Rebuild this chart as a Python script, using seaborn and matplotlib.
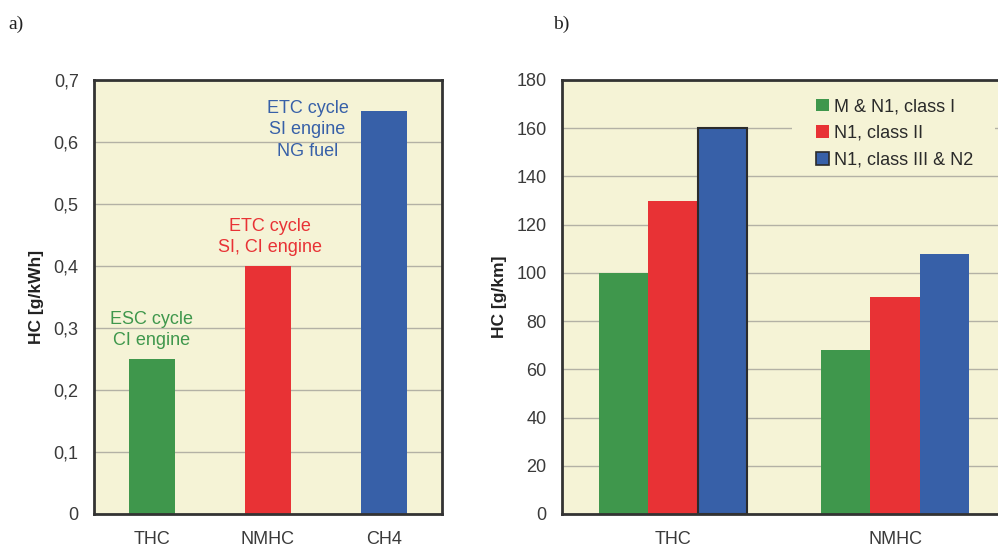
import numpy as np
import pandas as pd
import matplotlib
matplotlib.use("Agg")
import matplotlib.pyplot as plt
from matplotlib.patches import Rectangle
import seaborn as sns

# panel a) emission limits per cycle
a_cats = ['THC', 'NMHC', 'CH4']
a_vals = [0.25, 0.40, 0.65]
a_notes = ['ESC cycle\nCI engine', 'ETC cycle\nSI, CI engine', 'ETC cycle\nSI engine\nNG fuel']
a_yticks = [0, 0.1, 0.2, 0.3, 0.4, 0.5, 0.6, 0.7]

# panel b) limits per vehicle class
b_groups = ['THC', 'NMHC']
b_classes = ['M & N1, class I', 'N1, class II', 'N1, class III & N2']
b_class1 = [100, 68]
b_class2 = [130, 90]
b_class3 = [160, 108]
b_yticks = [0, 20, 40, 60, 80, 100, 120, 140, 160, 180]

GREEN = '#3f974c'
RED = '#e83235'
BLUE = '#3760a8'
BG = '#f5f3d6'
GRID = '#b3b1a5'
SPINE = '#333333'
TXT = '#3a3a3a'
FS = 13

sns.set_style("white")
plt.rcParams['font.family'] = ['Liberation Sans', 'DejaVu Sans']

fig = plt.figure(figsize=(9.98, 5.47), dpi=100)
W, H = 998, 547
ax1 = fig.add_axes([94 / W, 1 - 514 / H, (442 - 94) / W, (514 - 80) / H])
ax2 = fig.add_axes([562 / W, 1 - 514 / H, (1006 - 562) / W, (514 - 80) / H])


def style_axes(ax, yticks, ylabel, labels):
    ax.set_facecolor(BG)
    ax.set_axisbelow(True)
    ax.yaxis.grid(True, color=GRID, lw=1.0)
    ax.xaxis.grid(False)
    for s in ax.spines.values():
        s.set_color(SPINE)
        s.set_linewidth(2.0)
    ax.set_yticks(yticks)
    ax.set_yticklabels(labels)
    ax.set_ylim(yticks[0], yticks[-1])
    ax.tick_params(axis='y', length=0, pad=11, labelsize=FS, labelcolor=TXT)
    ax.tick_params(axis='x', length=0, pad=12, labelsize=FS, labelcolor=TXT)
    ax.set_xlabel('')
    ax.set_ylabel(ylabel, fontsize=12.5, fontweight='bold', color='#222222', labelpad=7)


# a)
df_a = pd.DataFrame({'cat': a_cats, 'val': a_vals})
sns.barplot(data=df_a, x='cat', y='val', hue='cat', palette=[GREEN, RED, BLUE],
            legend=False, width=0.4, saturation=1, linewidth=0, ax=ax1)
ax1.set_xlim(-0.5, 2.5)
style_axes(ax1, a_yticks, 'HC [g/kWh]', [('%g' % t).replace('.', ',') for t in a_yticks])
note_pos = [(0.0, 0.297), (1.02, 0.447), (1.34, 0.62)]
for (x, y), note, c in zip(note_pos, a_notes, [GREEN, RED, BLUE]):
    ax1.text(x, y, note, color=c, fontsize=FS, ha='center', va='center', linespacing=1.35)

# b)
df_b = pd.DataFrame({
    'group': b_groups * 3,
    'cls': [b_classes[0]] * 2 + [b_classes[1]] * 2 + [b_classes[2]] * 2,
    'val': b_class1 + b_class2 + b_class3,
})
sns.barplot(data=df_b, x='group', y='val', hue='cls', hue_order=b_classes,
            palette=[GREEN, RED, BLUE], width=0.667, saturation=1, linewidth=0, ax=ax2)
ax2.set_xlim(-0.5, 1.5)
style_axes(ax2, b_yticks, 'HC [g/km]', [str(t) for t in b_yticks])
ax2.containers[2][0].set_edgecolor('#2b2b2b')
ax2.containers[2][0].set_linewidth(1.5)

# plain panel behind the legend hides the grid line there
ax2.add_patch(Rectangle((0.518, 0.795), 0.457, 0.2, transform=ax2.transAxes,
                        facecolor=BG, edgecolor='none', zorder=0.8))
leg = ax2.legend(loc='upper left', bbox_to_anchor=(0.532, 1.0), frameon=False,
                 fontsize=FS, handlelength=0.68, handleheight=0.68, handletextpad=0.3,
                 labelspacing=0.55, borderpad=0.5)
for t in leg.get_texts():
    t.set_color('#2a2a2a')
leg.legend_handles[2].set_edgecolor('#2b2b2b')
leg.legend_handles[2].set_linewidth(1.2)

fig.text(8 / W, 1 - 29 / H, 'a)', family='Liberation Serif', fontsize=14, color='#222222')
fig.text(553 / W, 1 - 29 / H, 'b)', family='Liberation Serif', fontsize=14, color='#222222')

fig.savefig('out.png', dpi=100)
plt.close(fig)
